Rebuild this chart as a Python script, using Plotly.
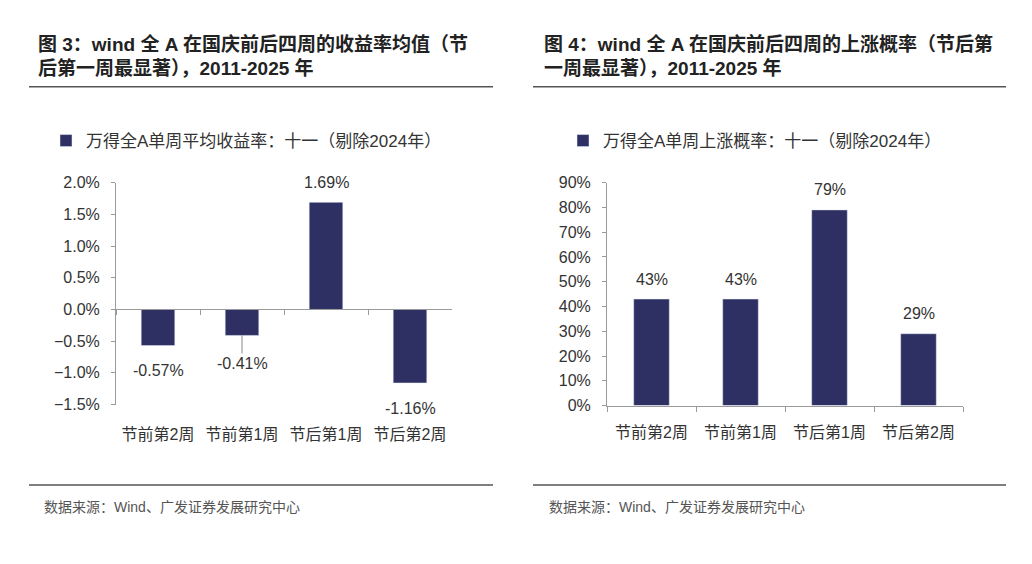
import plotly.graph_objects as go
from plotly.subplots import make_subplots

# the page body keeps its 8px margin, so the figure is made 16px smaller than the window
OFF = 8
W, H = 1032 - 2 * OFF, 564 - 2 * OFF

weeks = ['节前第2周', '节前第1周', '节后第1周', '节后第2周']
avg_return = [-0.57, -0.41, 1.69, -1.16]   # %
up_prob = [43, 43, 79, 29]                 # %

name_left = '万得全A单周平均收益率：十一（剔除2024年）'
name_right = '万得全A单周上涨概率：十一（剔除2024年）'
title_left = ['图 3：wind 全 A 在国庆前后四周的收益率均值（节', '后第一周最显著），2011-2025 年']
title_right = ['图 4：wind 全 A 在国庆前后四周的上涨概率（节后第', '一周最显著），2011-2025 年']
source_txt = '数据来源：Wind、广发证券发展研究中心'

BAR = '#2E2F63'
AXIS = '#9a9a9a'
TXT = '#333333'
FONT = 'Liberation Sans, Arial, Noto Sans CJK SC'

left_range = [-1.5, 2.0]
right_range = [0, 90]


# window pixels -> paper fractions
def px_x(p):
    return (p - OFF) / W


def px_y(p):
    return 1 - (p - OFF) / H


fig = make_subplots(rows=1, cols=2)

fig.add_trace(go.Bar(x=weeks, y=avg_return, name=name_left, marker_color=BAR,
                     legend='legend', hoverinfo='skip'), row=1, col=1)
fig.add_trace(go.Bar(x=weeks, y=up_prob, name=name_right, marker_color=BAR,
                     legend='legend2', hoverinfo='skip'), row=1, col=2)

# plot areas (pixels)
ly_dom = [px_y(409), px_y(180)]
ry_dom = [px_y(410), px_y(180)]
zero_pos = ly_dom[0] + (0 - left_range[0]) / (left_range[1] - left_range[0]) * (ly_dom[1] - ly_dom[0])

tick_font = dict(family=FONT, size=16, color=TXT)

fig.update_xaxes(type='category', range=[-0.5, 3.5], showline=True, linecolor=AXIS, linewidth=1,
                 ticks='outside', tickson='boundaries', ticklen=5, tickcolor=AXIS,
                 showgrid=False, zeroline=False, tickfont=tick_font)
fig.update_xaxes(domain=[px_x(116), px_x(452)], anchor='free', position=zero_pos,
                 ticklabelstandoff=110, row=1, col=1)
fig.update_xaxes(domain=[px_x(607), px_x(963)], ticklabelstandoff=12, row=1, col=2)

fig.update_yaxes(showline=True, linecolor=AXIS, linewidth=1, ticks='outside', ticklen=4,
                 tickcolor=AXIS, showgrid=False, zeroline=False, tickfont=tick_font,
                 ticklabelstandoff=8, ticksuffix='%')
fig.update_yaxes(domain=ly_dom, range=left_range, dtick=0.5, tickformat='.1f', row=1, col=1)
fig.update_yaxes(domain=ry_dom, range=right_range, dtick=10, tickformat='d', row=1, col=2)

lab_font = dict(family=FONT, size=16, color=TXT)
anns = []
for xref, yref, vals in [('x', 'y', avg_return), ('x2', 'y2', up_prob)]:
    for wk, v in zip(weeks, vals):
        txt = ('%.2f%%' % v) if xref == 'x' else ('%d%%' % v)
        if v == -0.41:
            anns.append(dict(x=wk, y=v, xref=xref, yref=yref, text=txt, showarrow=True,
                             arrowhead=0, arrowwidth=1, arrowcolor='#888', ax=0, ay=28,
                             font=lab_font))
        else:
            anns.append(dict(x=wk, y=v, xref=xref, yref=yref, text=txt, showarrow=False,
                             yanchor='middle', yshift=20 if v > 0 else -25, font=lab_font))

title_font = dict(family=FONT, size=19, color='#222222', weight='bold')
for x0, lines in [(36, title_left), (542, title_right)]:
    for i, line in enumerate(lines):
        anns.append(dict(x=px_x(x0), y=px_y(37 + 25 * i), xref='paper', yref='paper', text=line,
                         showarrow=False, xanchor='left', yanchor='middle', font=title_font))

for x0 in [42, 547]:
    anns.append(dict(x=px_x(x0), y=px_y(515), xref='paper', yref='paper', text=source_txt,
                     showarrow=False, xanchor='left', yanchor='middle',
                     font=dict(family=FONT, size=14, color='#555555')))

shapes = []
for a, b in [(29, 493), (533, 1006)]:
    for yy in [81, 492]:
        shapes.append(dict(type='line', xref='paper', yref='paper', x0=px_x(a), x1=px_x(b),
                           y0=px_y(yy), y1=px_y(yy), line=dict(color='#555555', width=1.5)))

leg = dict(font=dict(family=FONT, size=17, color=TXT), yanchor='middle', xanchor='left',
           bgcolor='rgba(0,0,0,0)', itemwidth=30)
fig.update_layout(
    width=W, height=H, margin=dict(l=0, r=0, t=0, b=0),
    paper_bgcolor='white', plot_bgcolor='white',
    bargap=0.6, showlegend=True,
    legend=dict(leg, x=px_x(46), y=px_y(137)),
    legend2=dict(leg, x=px_x(563), y=px_y(137)),
    annotations=anns, shapes=shapes,
)

fig.write_html("out.html")
